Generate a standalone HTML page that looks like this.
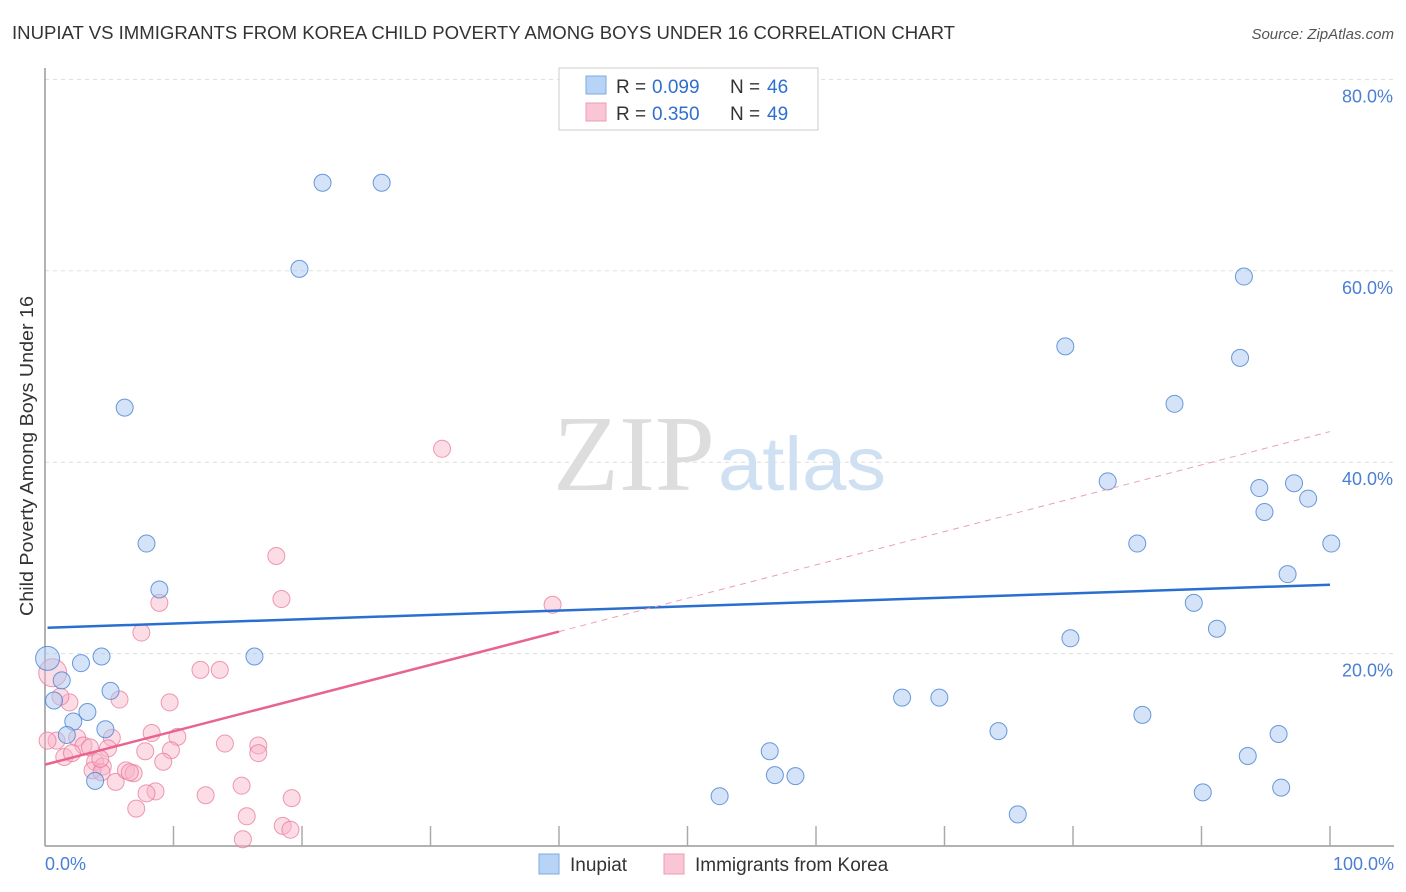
<!DOCTYPE html>
<html><head><meta charset="utf-8">
<style>
body{margin:0;background:#fff;font-family:"Liberation Sans",sans-serif;}
svg{display:block}
</style></head><body>
<svg width="1406" height="892">
<text x="12" y="39" font-size="18" fill="#333" textLength="943" lengthAdjust="spacingAndGlyphs">INUPIAT VS IMMIGRANTS FROM KOREA CHILD POVERTY AMONG BOYS UNDER 16 CORRELATION CHART</text>
<text x="1394" y="39" font-size="15" fill="#555" font-style="italic" text-anchor="end">Source: ZipAtlas.com</text>
<g id="grid"></g>
<text x="553" y="490" font-size="108" fill="#ddd" font-family="Liberation Serif,serif" textLength="162" lengthAdjust="spacingAndGlyphs">ZIP</text>
<text x="718" y="490" font-size="76" fill="#cfe0f3" textLength="168" lengthAdjust="spacingAndGlyphs">atlas</text>
<line x1="45" y1="68" x2="45" y2="846" stroke="#999" stroke-width="1.5"/>
<line x1="45" y1="846" x2="1394" y2="846" stroke="#999" stroke-width="1.5"/>
<g id="ticks"></g>
<text x="45" y="870" font-size="18" fill="#4a7fd4">0.0%</text>
<text x="1394" y="870" font-size="18" fill="#4a7fd4" text-anchor="end">100.0%</text>
<text transform="translate(33,456) rotate(-90)" font-size="18" fill="#333" text-anchor="middle" textLength="320" lengthAdjust="spacingAndGlyphs">Child Poverty Among Boys Under 16</text>
<g id="pts"></g>
<g id="lines"></g>
<g>
<rect x="559" y="68" width="259" height="62" fill="#fff" stroke="#ccc"/>
<rect x="586" y="76" width="20" height="18" fill="#b7d3f5" stroke="#7fa8e0"/>
<text x="616" y="93" font-size="19" fill="#333">R =</text>
<text x="652" y="93" font-size="19" fill="#2f6fd0">0.099</text>
<text x="730" y="93" font-size="19" fill="#333">N =</text>
<text x="767" y="93" font-size="19" fill="#2f6fd0">46</text>
<rect x="586" y="103" width="20" height="18" fill="#f9c6d5" stroke="#ef9ab3"/>
<text x="616" y="120" font-size="19" fill="#333">R =</text>
<text x="652" y="120" font-size="19" fill="#2f6fd0">0.350</text>
<text x="730" y="120" font-size="19" fill="#333">N =</text>
<text x="767" y="120" font-size="19" fill="#2f6fd0">49</text>
</g>
<g>
<rect x="539" y="854" width="20" height="20" fill="#b7d3f5" stroke="#7fa8e0"/>
<text x="570" y="871" font-size="19" fill="#333">Inupiat</text>
<rect x="664" y="854" width="20" height="20" fill="#f9c6d5" stroke="#ef9ab3"/>
<text x="695" y="871" font-size="19" fill="#333">Immigrants from Korea</text>
</g>
</svg>
<script>
const yTicks=[20,40,60,80];
const blueX=[21.6,26.2,19.8,6.2,7.9,8.9,16.3,4.4,2.8,0.2,1.3,0.7,5.1,3.3,2.2,4.7,1.7,3.9,52.5,56.4,56.8,58.4,66.7,69.6,74.2,75.7,79.4,79.8,82.7,85.0,85.4,87.9,89.4,90.1,91.2,93.0,93.3,93.6,94.5,94.9,96.0,96.2,96.7,97.2,98.3,100.1];
const blueY=[69.2,69.2,60.2,45.7,31.5,26.7,19.7,19.7,19.0,19.5,17.2,15.1,16.1,13.9,12.9,12.1,11.5,6.7,5.1,9.8,7.3,7.2,15.4,15.4,11.9,3.2,52.1,21.6,38.0,31.5,13.6,46.1,25.3,5.5,22.6,50.9,59.4,9.3,37.3,34.8,11.6,6.0,28.3,37.8,36.2,31.5];
const pinkX=[8.9,18.4,7.5,12.1,13.6,0.6,1.9,5.8,9.7,0.9,2.5,3.0,3.5,5.2,4.9,8.3,10.3,14.0,16.6,16.6,1.5,2.1,3.9,4.5,3.7,4.4,7.8,9.8,9.2,5.5,6.3,6.9,8.6,7.9,7.1,12.5,15.3,15.7,19.2,18.5,19.1,15.4,30.9,18.0,39.5,0.2,4.3,6.6,1.2];
const pinkY=[25.3,25.7,22.2,18.3,18.3,18.0,14.9,15.2,14.9,10.9,11.2,10.4,10.2,11.2,10.1,11.7,11.3,10.6,10.4,9.6,9.2,9.6,8.7,8.2,7.8,7.6,9.8,9.9,8.7,6.6,7.8,7.5,5.6,5.4,3.8,5.2,6.2,3.0,4.9,2.0,1.6,0.6,41.4,30.2,25.1,10.9,9.0,7.6,15.5];
const X=v=>45+v*12.85, Y=v=>845-v*9.57;
const NS="http://www.w3.org/2000/svg";
function mk(t,a,p){const e=document.createElementNS(NS,t);for(const k in a)e.setAttribute(k,a[k]);p.appendChild(e);return e;}
const grid=document.getElementById('grid');
yTicks.forEach(v=>{
 const l=mk('line',{x1:45,x2:1394,y1:Y(v),y2:Y(v),stroke:'#ddd','stroke-dasharray':'4,4'},grid);
 
 
 const t=mk('text',{x:1393,y:Y(v)+23,'font-size':18,fill:'#4a7fd4','text-anchor':'end'},grid);
 t.textContent=v.toFixed(1)+'%';
 
 
});
const ticks=document.getElementById('ticks');
for(let i=1;i<=10;i++){const v=i*10;
 const l=mk('line',{x1:X(v),x2:X(v),y1:826,y2:846,stroke:'#aaa','stroke-width':1.5},ticks);
 
 
}
const pts=document.getElementById('pts');
pinkX.forEach((x,i)=>{
 const c=mk('circle',{cx:X(x),cy:Y(pinkY[i]),r:i==5?14:8.5,fill:'rgba(248,180,200,0.45)',stroke:'rgba(232,120,155,0.75)','stroke-width':1},pts);
 
 
});
blueX.forEach((x,i)=>{
 const c=mk('circle',{cx:X(x),cy:Y(blueY[i]),r:i==9?12:8.5,fill:'rgba(170,200,240,0.5)',stroke:'rgba(70,130,210,0.8)','stroke-width':1},pts);
 
 
});
const lines=document.getElementById('lines');
let l=mk('line',{x1:X(0.2),y1:Y(22.7),x2:X(100),y2:Y(27.2),stroke:'#2a6fd0','stroke-width':2.5},lines);


l=mk('line',{x1:X(0),y1:Y(8.4),x2:X(40),y2:Y(22.3),stroke:'#e8648f','stroke-width':2.5},lines);


l=mk('line',{x1:X(40),y1:Y(22.3),x2:X(100),y2:Y(43.2),stroke:'#eba0b8','stroke-width':1,'stroke-dasharray':'6,5'},lines);


</script>
</body></html>
